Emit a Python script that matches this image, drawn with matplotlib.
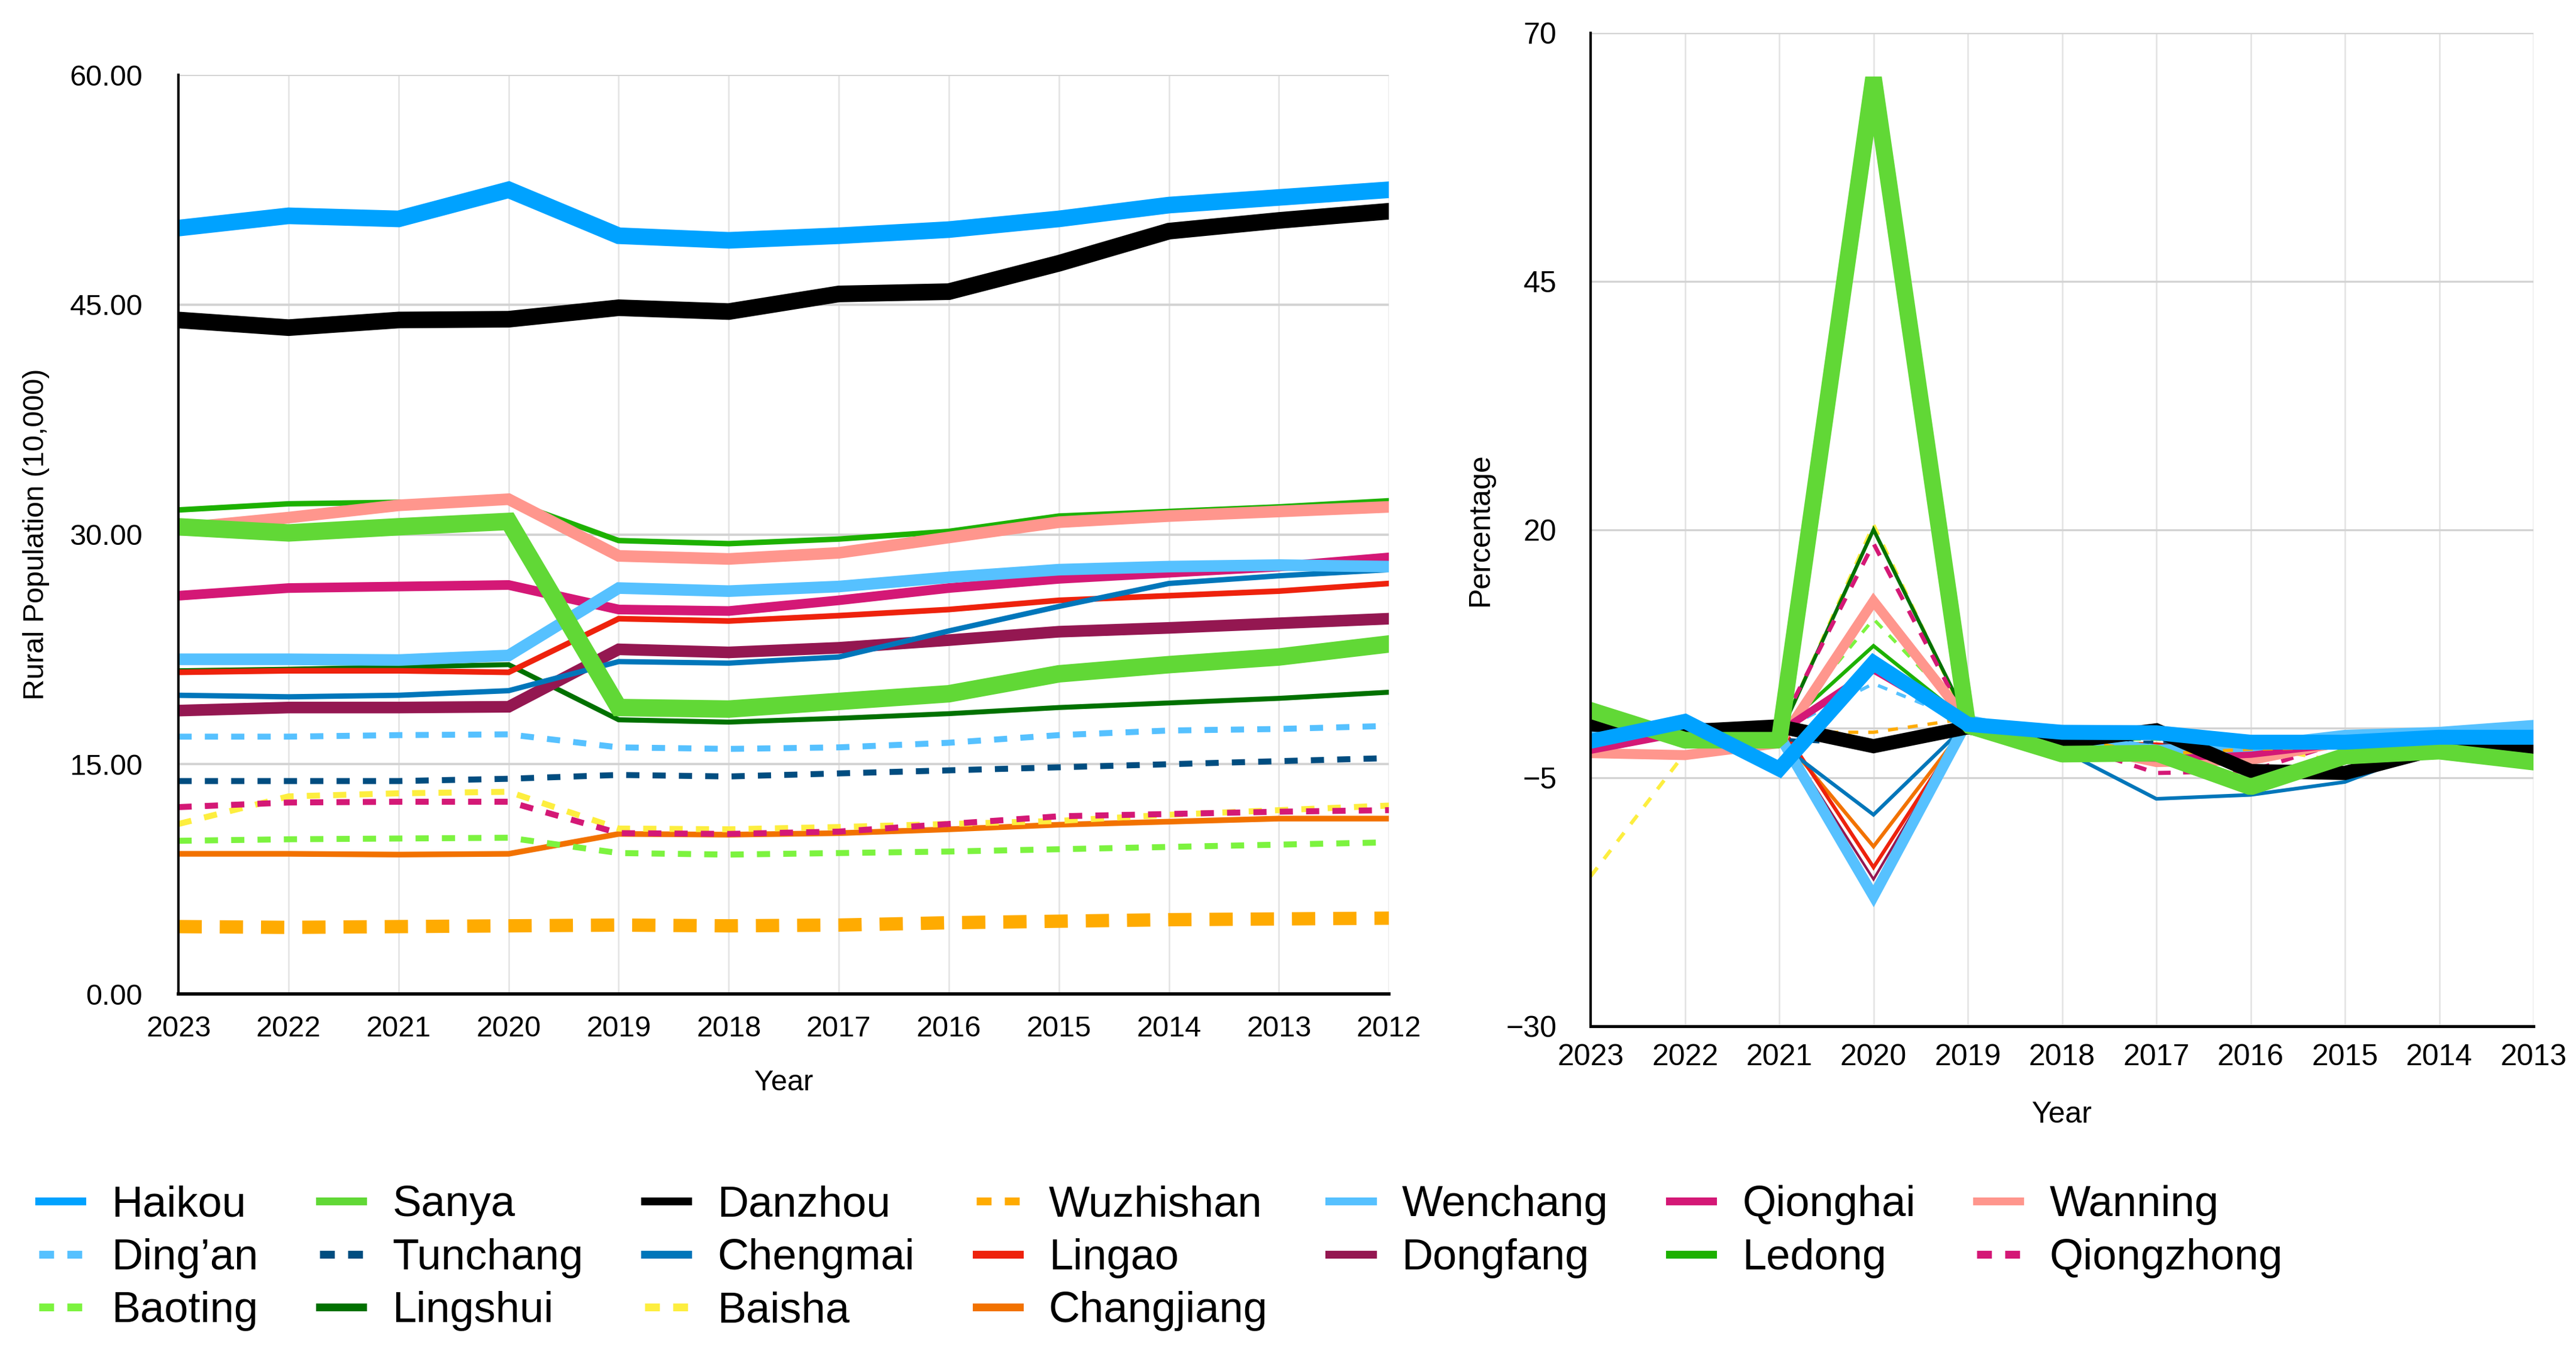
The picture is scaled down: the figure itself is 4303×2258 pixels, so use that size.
import matplotlib
matplotlib.use('Agg')
import matplotlib.pyplot as plt
from matplotlib.lines import Line2D
import numpy as np

plt.rcParams['font.family'] = ['Liberation Sans', 'DejaVu Sans']

# ---------------- data ----------------
years_pop = ['2023', '2022', '2021', '2020', '2019', '2018', '2017', '2016', '2015', '2014', '2013', '2012']
years_pct = ['2023', '2022', '2021', '2020', '2019', '2018', '2017', '2016', '2015', '2014', '2013']

cities = ['Haikou', 'Sanya', 'Danzhou', 'Wuzhishan', 'Wenchang', 'Qionghai', 'Wanning',
          'Ding’an', 'Tunchang', 'Chengmai', 'Lingao', 'Dongfang', 'Ledong', 'Qiongzhong',
          'Baoting', 'Lingshui', 'Baisha', 'Changjiang']

# Rural population (10,000), 2023 -> 2012
pop_haikou     = [50.0, 50.8, 50.6, 52.5, 49.5, 49.2, 49.5, 49.9, 50.6, 51.5, 52.0, 52.5]
pop_sanya      = [30.5, 30.1, 30.5, 30.85, 18.7, 18.6, 19.1, 19.6, 20.9, 21.5, 22.0, 22.85]
pop_danzhou    = [44.0, 43.5, 44.0, 44.05, 44.8, 44.55, 45.7, 45.85, 47.7, 49.8, 50.5, 51.1]
pop_wuzhishan  = [4.4, 4.35, 4.4, 4.45, 4.5, 4.45, 4.5, 4.65, 4.75, 4.85, 4.9, 4.95]
pop_wenchang   = [21.85, 21.85, 21.8, 22.1, 26.5, 26.3, 26.6, 27.2, 27.7, 27.9, 28.0, 27.9]
pop_qionghai   = [26.0, 26.5, 26.6, 26.7, 25.1, 25.0, 25.7, 26.5, 27.1, 27.5, 27.9, 28.5]
pop_wanning    = [30.4, 31.1, 31.9, 32.3, 28.6, 28.4, 28.8, 29.8, 30.8, 31.2, 31.5, 31.8]
pop_dingan     = [16.8, 16.8, 16.9, 16.95, 16.1, 16.0, 16.1, 16.4, 16.9, 17.2, 17.3, 17.5]
pop_tunchang   = [13.9, 13.9, 13.9, 14.05, 14.3, 14.2, 14.4, 14.6, 14.8, 15.0, 15.2, 15.4]
pop_chengmai   = [19.5, 19.4, 19.5, 19.8, 21.7, 21.6, 22.0, 23.7, 25.3, 26.8, 27.3, 27.7]
pop_lingao     = [21.0, 21.1, 21.1, 21.0, 24.5, 24.35, 24.7, 25.1, 25.7, 26.0, 26.3, 26.8]
pop_dongfang   = [18.5, 18.7, 18.7, 18.75, 22.5, 22.3, 22.6, 23.1, 23.65, 23.9, 24.2, 24.5]
pop_ledong     = [31.6, 32.0, 32.1, 32.2, 29.6, 29.4, 29.7, 30.2, 31.2, 31.5, 31.8, 32.2]
pop_qiongzhong = [12.2, 12.5, 12.55, 12.55, 10.5, 10.45, 10.6, 11.1, 11.6, 11.75, 11.9, 12.0]
pop_baoting    = [10.0, 10.1, 10.15, 10.2, 9.2, 9.1, 9.2, 9.3, 9.45, 9.6, 9.75, 9.9]
pop_lingshui   = [21.1, 21.2, 21.35, 21.5, 17.9, 17.75, 18.0, 18.3, 18.7, 19.0, 19.3, 19.7]
pop_baisha     = [11.1, 12.9, 13.1, 13.2, 10.8, 10.75, 10.9, 11.1, 11.3, 11.7, 12.0, 12.3]
pop_changjiang = [9.15, 9.15, 9.1, 9.15, 10.45, 10.4, 10.5, 10.75, 11.05, 11.25, 11.45, 11.45]

# Percentage change, 2023 -> 2013
pct_haikou     = [-1.3, 0.7, -4.1, 6.6, 0.4, -0.4, -0.45, -1.4, -1.4, -0.9, -0.9]
pct_sanya      = [1.8, -1.2, -1.2, 65.5, 0.3, -2.6, -2.5, -5.9, -2.8, -2.3, -3.4]
pct_danzhou    = [0.4, -0.3, 0.2, -1.8, 0.1, -1.4, -0.2, -4.3, -4.5, -2.0, -1.9]
pct_wuzhishan  = [0.9, -0.9, -0.4, -0.4, 1.0, -0.9, -2.6, -2.1, -1.9, -1.2, -1.0]
pct_wenchang   = [0.0, 0.2, -0.7, -16.9, 0.8, -1.1, -2.2, -1.8, -0.7, -0.4, 0.3]
pct_qionghai   = [-2.2, -0.4, -0.4, 5.9, 0.4, -2.7, -3.0, -2.6, -1.5, -1.4, -2.1]
pct_wanning    = [-2.5, -2.7, -1.5, 12.8, 0.7, -1.4, -3.4, -3.2, -1.3, -1.0, -1.0]
pct_dingan     = [0.0, -0.6, -0.3, 4.5, 0.6, -0.6, -1.8, -3.0, -1.7, -0.6, -1.1]
pct_tunchang   = [0.0, 0.0, -1.1, -1.7, 0.7, -1.4, -1.4, -1.4, -1.3, -1.3, -1.3]
pct_chengmai   = [0.5, -0.5, -1.5, -8.7, 0.5, -2.2, -7.1, -6.7, -5.4, -1.8, -1.4]
pct_lingao     = [-0.5, 0.0, 0.5, -14.0, 0.6, -1.5, -1.6, -2.4, -1.2, -1.1, -1.9]
pct_dongfang   = [-1.1, 0.0, -0.3, -15.2, 0.9, -1.3, -2.2, -2.3, -1.0, -1.2, -1.2]
pct_ledong     = [-1.2, -0.3, -0.3, 8.3, 0.7, -1.0, -1.7, -3.2, -1.0, -0.9, -1.2]
pct_qiongzhong = [-2.4, -0.4, 0.0, 18.6, 0.5, -1.4, -4.5, -4.3, -1.3, -1.3, -0.8]
pct_baoting    = [-1.0, -0.5, -0.5, 11.0, 1.1, -1.1, -1.1, -1.6, -1.6, -1.5, -1.5]
pct_lingshui   = [-0.5, -0.7, -0.7, 20.0, 0.8, -1.4, -1.7, -2.0, -1.6, -1.5, -2.0]
pct_baisha     = [-14.9, -2.5, -0.8, 20.5, 0.5, -1.4, -1.8, -1.8, -3.4, -2.5, -2.4]
pct_changjiang = [0.0, 0.5, -0.5, -11.9, 0.5, -1.0, -2.3, -2.7, -1.8, -1.7, 0.0]

pop_series = [pop_haikou, pop_sanya, pop_danzhou, pop_wuzhishan, pop_wenchang, pop_qionghai,
              pop_wanning, pop_dingan, pop_tunchang, pop_chengmai, pop_lingao, pop_dongfang,
              pop_ledong, pop_qiongzhong, pop_baoting, pop_lingshui, pop_baisha, pop_changjiang]
pct_series = [pct_haikou, pct_sanya, pct_danzhou, pct_wuzhishan, pct_wenchang, pct_qionghai,
              pct_wanning, pct_dingan, pct_tunchang, pct_chengmai, pct_lingao, pct_dongfang,
              pct_ledong, pct_qiongzhong, pct_baoting, pct_lingshui, pct_baisha, pct_changjiang]

# ---------------- styles ----------------
colors = ['#00a2ff', '#61d836', '#000000', '#ffab01', '#56c1ff', '#d41876', '#ff968d',
          '#56c1ff', '#004d80', '#0076ba', '#ee220c', '#941751', '#1db100', '#d41876',
          '#7cf33f', '#017100', '#fdee3f', '#f27200']
dotted = {'Ding’an', 'Tunchang', 'Qiongzhong', 'Baoting', 'Baisha'}
lw_left = [10, 10.5, 10, 8, 7, 5.8, 7, 3.6, 3.6, 3.2, 3.4, 7, 3.3, 3.6, 3.6, 3.0, 3.6, 3.4]
lw_right = [9, 10, 8.5, 2, 6.5, 4.5, 6, 2, 2, 2.2, 2.2, 1.5, 2.2, 2.5, 2, 2.2, 2.2, 2.2]

W, H, DPI = 4303, 2258, 200
fig = plt.figure(figsize=(W / DPI, H / DPI), dpi=DPI)

ax1 = fig.add_axes([0.0693, 0.2648, 0.4699, 0.6798])
ax2 = fig.add_axes([0.6175, 0.2409, 0.366, 0.7347])

x1 = np.arange(len(years_pop))
x2 = np.arange(len(years_pct))

for i in reversed(range(len(cities))):
    name = cities[i]
    if name == 'Wuzhishan':
        ls1 = (0, (1.75, 1.35))
        ls2 = (0, (3, 3))
    elif name in dotted:
        ls1 = (0, (2.2, 2.2))
        ls2 = (0, (3, 3))
    else:
        ls1 = '-'
        ls2 = '-'
    ax1.plot(x1, pop_series[i], color=colors[i], lw=lw_left[i], linestyle=ls1,
             solid_joinstyle='miter', dash_capstyle='butt', zorder=3)
    join2 = 'bevel' if name == 'Sanya' else 'miter'
    ax2.plot(x2, pct_series[i], color=colors[i], lw=lw_right[i], linestyle=ls2,
             solid_joinstyle=join2, dash_capstyle='butt', zorder=3)

grid_h = '#d3d3d3'
grid_v = '#e3e3e3'

# left axes
ax1.set_xlim(0, len(years_pop) - 1)
ax1.set_ylim(0, 60)
ax1.set_yticks([0, 15, 30, 45, 60])
ax1.set_yticklabels(['%.2f' % v for v in [0, 15, 30, 45, 60]])
ax1.set_xticks(x1)
ax1.set_xticklabels(years_pop)
ax1.yaxis.grid(True, color=grid_h, lw=1.4, zorder=0)
ax1.xaxis.grid(True, color=grid_v, lw=0.9, zorder=0)
ax1.set_axisbelow(True)
for s in ['top', 'right']:
    ax1.spines[s].set_visible(False)
ax1.spines['left'].set_linewidth(1.5)
ax1.spines['bottom'].set_linewidth(2.0)
ax1.spines['left'].set_zorder(4)
ax1.spines['bottom'].set_zorder(4)
ax1.tick_params(axis='y', length=0, pad=21.6, labelsize=17.5)
ax1.tick_params(axis='x', length=0, pad=13, labelsize=17.5)
ax1.set_xlabel('Year', fontsize=17.5, labelpad=16)
ax1.set_ylabel('Rural Population (10,000)', fontsize=17.5, labelpad=12)

# right axes
ax2.set_xlim(0, len(years_pct) - 1)
ax2.set_ylim(-30, 70)
ax2.set_yticks([-30, -5, 20, 45, 70])
ax2.set_xticks(x2)
ax2.set_xticklabels(years_pct)
ax2.yaxis.grid(True, color=grid_h, lw=1.2, zorder=0)
ax2.xaxis.grid(True, color=grid_v, lw=0.9, zorder=0)
ax2.axhline(0, color=grid_h, lw=1.2, zorder=1)
ax2.set_axisbelow(True)
for s in ['top', 'right']:
    ax2.spines[s].set_visible(False)
ax2.spines['left'].set_linewidth(1.5)
ax2.spines['bottom'].set_linewidth(1.8)
ax2.spines['left'].set_zorder(4)
ax2.spines['bottom'].set_zorder(4)
ax2.tick_params(axis='y', length=0, pad=20.5, labelsize=18)
ax2.tick_params(axis='x', length=0, pad=10.6, labelsize=18)
ax2.set_xlabel('Year', fontsize=18, labelpad=18)
ax2.set_ylabel('Percentage', fontsize=18, labelpad=7)

# legend (proxy handles, uniform width)
handles = []
for i, name in enumerate(cities):
    if name in dotted or name == 'Wuzhishan':
        ls = (0, (1.9, 1.7))
    else:
        ls = '-'
    handles.append(Line2D([], [], color=colors[i], lw=4.7, linestyle=ls, dash_capstyle='butt'))

row1 = [0, 1, 2, 3, 4, 5, 6]
row2 = [7, 8, 9, 10, 11, 12, 13]
row3 = [14, 15, 16, 17]
order = []
for c in range(7):
    order.append(row1[c])
    order.append(row2[c])
    if c < len(row3):
        order.append(row3[c])

fig.legend([handles[k] for k in order], [cities[k] for k in order],
           loc='upper left', bbox_to_anchor=(0.0151, 0.1235), ncol=7, frameon=False,
           fontsize=26, handlelength=1.0, handletextpad=0.68, columnspacing=1.42,
           labelspacing=0.3, borderpad=0, borderaxespad=0)

fig.savefig('out.png', dpi=DPI)
